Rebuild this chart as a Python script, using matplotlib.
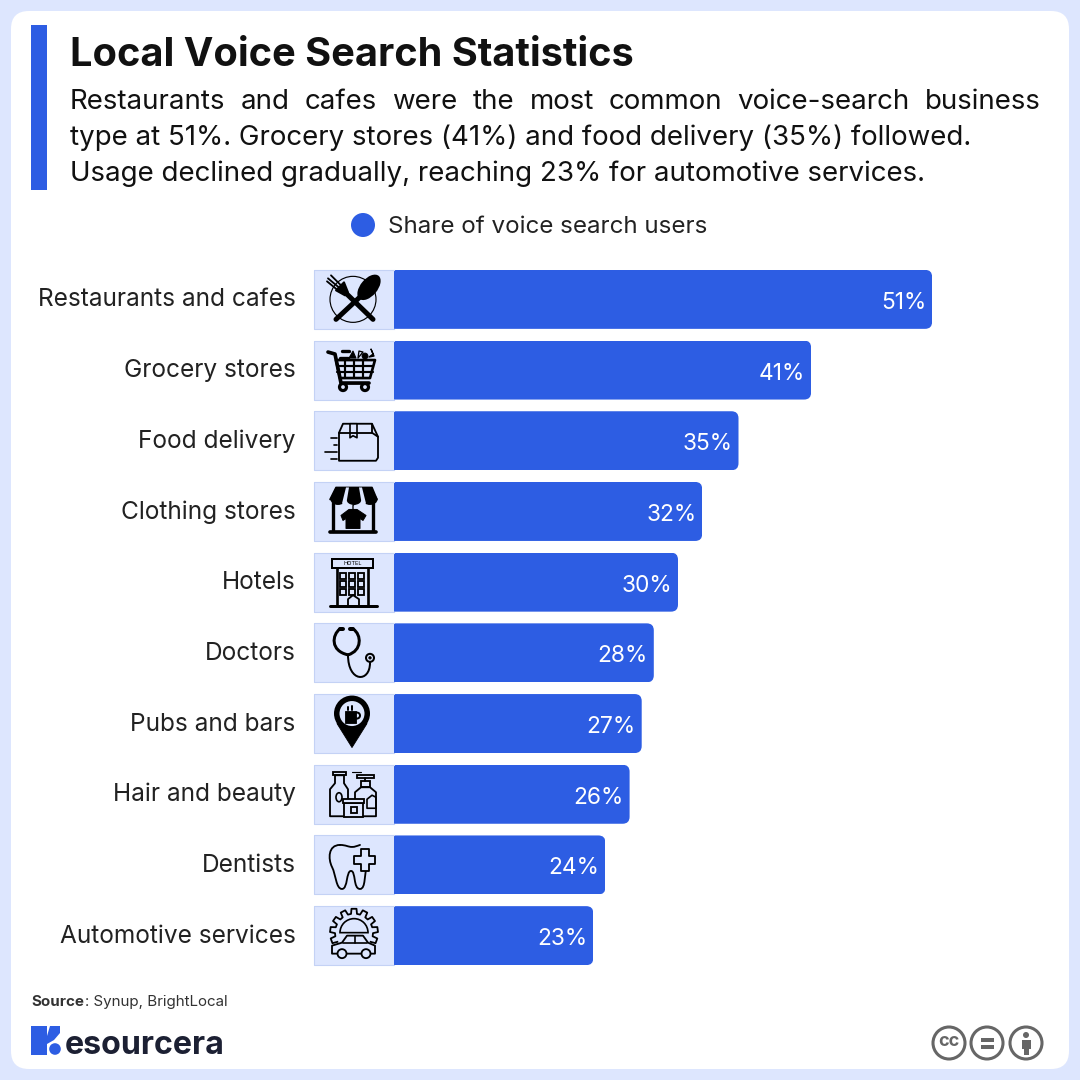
import numpy as np
import matplotlib
matplotlib.use("Agg")
import matplotlib.pyplot as plt
from matplotlib.patches import Rectangle, Circle, Ellipse, Polygon, FancyBboxPatch, PathPatch, Wedge
from matplotlib.path import Path
from matplotlib.transforms import Affine2D

plt.rcParams["font.family"] = ["Inter", "DejaVu Sans"]

categories = ["Restaurants and cafes", "Grocery stores", "Food delivery", "Clothing stores", "Hotels",
              "Doctors", "Pubs and bars", "Hair and beauty", "Dentists", "Automotive services"]
values = [51, 41, 35, 32, 30, 28, 27, 26, 24, 23]

title = "Local Voice Search Statistics"
subtitle_lines = ["Restaurants and cafes were the most common voice-search business",
                  "type at 51%. Grocery stores (41%) and food delivery (35%) followed.",
                  "Usage declined gradually, reaching 23% for automotive services."]
legend_label = "Share of voice search users"

BLUE = "#2d5de3"
PALE = "#dde6fe"
INK = "#111111"
LW = 1.2

fig = plt.figure(figsize=(10.8, 10.8), dpi=100, facecolor=PALE)

# background layer works in reference pixels, y going down
bg = fig.add_axes([0, 0, 1, 1])
bg.set_xlim(0, 1080)
bg.set_ylim(1080, 0)
bg.axis("off")
bg.add_patch(FancyBboxPatch((11, 11), 1058, 1058, boxstyle="round,pad=0,rounding_size=18", fc="white", ec="none"))
bg.add_patch(Rectangle((31, 25), 16, 165, fc=BLUE, ec="none"))

bg.text(70, 55.5, title, fontsize=28.6, fontweight="bold", color=INK, va="center", ha="left")

renderer = fig.canvas.get_renderer()


def justified(words, x0, x1, y, size):
    # first line of the intro is stretched to the full width
    items = [bg.text(0, y, w, fontsize=size, color=INK, va="center", ha="left") for w in words]
    widths = [t.get_window_extent(renderer).width for t in items]
    gap = (x1 - x0 - sum(widths)) / (len(words) - 1)
    x = x0
    for t, w in zip(items, widths):
        t.set_x(x)
        x += w + gap


justified(subtitle_lines[0].split(" "), 70, 1041, 102, 19.95)
bg.text(70, 138, subtitle_lines[1], fontsize=19.95, color=INK, va="center", ha="left")
bg.text(70, 174, subtitle_lines[2], fontsize=19.95, color=INK, va="center", ha="left")

bg.add_patch(Circle((363, 225), 12, fc=BLUE, ec="none"))
bg.text(388, 227, legend_label, fontsize=17.4, color="#222222", va="center", ha="left")

# chart axes, 0 sits on the left of the icon cells
ax = fig.add_axes([315 / 1080, 1 - 971 / 1080, 726 / 1080, 707 / 1080])
ax.patch.set_alpha(0)
ax.set_xlim(0, 60)
ax.set_ylim(9.5, -0.5)
ax.axis("off")
bars = ax.barh(range(len(values)), values, height=0.835, color=BLUE)

centers = []
for i, (bar, v, name) in enumerate(zip(bars, values, categories)):
    x1, yc = bg.transData.inverted().transform(ax.transData.transform((v, i)))
    centers.append(yc)
    # round the right end of the bar only
    clip = FancyBboxPatch((280, yc - 29.5), x1 - 280, 59, boxstyle="round,pad=0,rounding_size=7",
                          transform=bg.transData, fc="none", ec="none")
    bar.set_clip_path(clip)
    ax.annotate(f"{v}%", xy=(v, i), xytext=(-6, -3.5), textcoords="offset pixels", ha="right", va="center",
                color="white", fontsize=16.4)
    bg.text(295.5, yc + 0.5, name, ha="right", va="center", fontsize=17.6, color="#222222")

# icon layer on top of the bars
top = fig.add_axes([0, 0, 1, 1])
top.set_xlim(0, 1080)
top.set_ylim(1080, 0)
top.axis("off")
top.patch.set_alpha(0)


def line(tr, pts, lw=1.5, c="black"):
    top.plot([p[0] for p in pts], [p[1] for p in pts], color=c, lw=lw * LW, transform=tr,
             solid_capstyle="round", solid_joinstyle="round")


def poly(tr, pts, fc="none", ec="black", lw=1.2):
    top.add_patch(Polygon(pts, closed=True, fc=fc, ec=ec, lw=lw * LW, transform=tr, joinstyle="round"))


def rect(tr, x, y, w, h, fc="none", ec="black", lw=1.2):
    top.add_patch(Rectangle((x, y), w, h, fc=fc, ec=ec, lw=lw * LW, transform=tr))


def circ(tr, x, y, r, fc="none", ec="black", lw=1.2):
    top.add_patch(Circle((x, y), r, fc=fc, ec=ec, lw=lw * LW, transform=tr))


def curve(tr, start, *segs, lw=1.3, fc="none"):
    # segs are (c1, c2, end) cubic pieces
    verts = [start]
    codes = [Path.MOVETO]
    for s in segs:
        verts += list(s)
        codes += [Path.CURVE4] * 3
    top.add_patch(PathPatch(Path(verts, codes), fc=fc, ec="black", lw=lw * LW, transform=tr, capstyle="round"))


def icon_food(tr):
    circ(tr, -1, 0, 23, lw=0.7)
    line(tr, [(19, 20), (-12, -10)], lw=3)
    poly(tr, [(-18, -9), (-10, -17), (-6, -7), (-9, -4)], fc="black", ec="black")
    line(tr, [(-14, -11), (-26, -21)], lw=1.1)
    line(tr, [(-12, -13), (-23, -24)], lw=1.1)
    line(tr, [(-16, -9), (-27, -18)], lw=1.1)
    line(tr, [(-18, 20), (12, -8)], lw=3)
    top.add_patch(Ellipse((15, -12), 17, 30, angle=40, fc="black", ec="none", transform=tr))


def icon_cart(tr):
    line(tr, [(-26, -18), (-19, -16), (-13, 13), (15, 13)], lw=2.2)
    poly(tr, [(-18, -10), (21, -10), (16, 8), (-14, 8)], lw=1.6)
    for x in [-9, 0, 9]:
        line(tr, [(x, -10), (x, 8)], lw=1.3)
    for y in [-4, 2]:
        line(tr, [(-17, y), (19, y)], lw=1.3)
    circ(tr, -11, 17, 3.5, fc=PALE, lw=1.9)
    circ(tr, 11, 17, 3.5, fc=PALE, lw=1.9)
    line(tr, [(-14, -12), (-6, -12)], lw=2)
    line(tr, [(-12, -19), (-5, -19)], lw=2)
    poly(tr, [(-5, -12), (-1, -19), (2, -12)], fc="black", lw=0.6)
    poly(tr, [(4, -12), (5, -19), (9, -18)], lw=0.8)
    circ(tr, 11, -14, 3, fc="black", lw=0.5)
    poly(tr, [(17, -21), (19, -16), (15, -13), (20, -14)], fc="black", lw=0.8)


def icon_box(tr):
    poly(tr, [(-15, 20), (-15, -8), (-11, -17), (18, -17), (24, -4), (24, 17), (22, 20)], lw=1.1)
    line(tr, [(-15, -8), (18, -8), (18, -17)], lw=1.1)
    line(tr, [(18, -8), (24, -4)], lw=1.1)
    poly(tr, [(-4, -17), (3, -17), (3, -3), (-1, -5), (-4, -3)], fc=PALE, lw=1)
    line(tr, [(-23, -3), (-17, -3)], lw=1)
    line(tr, [(-20, 4), (-17, 4)], lw=1)
    line(tr, [(-29, 11), (-17, 11)], lw=1)
    line(tr, [(-23, 18), (-17, 18)], lw=1)


def icon_shop(tr):
    poly(tr, [(-18, -24), (18, -24), (23, -12), (-24, -12)], fc="black", lw=1)
    for x in [-16, 0, 16]:
        top.add_patch(Ellipse((x, -12), 15, 11, fc="black", ec="none", transform=tr))
    poly(tr, [(-8, -24), (-5, -24), (-8, -6), (-12, -8)], fc=PALE, ec="none")
    poly(tr, [(5, -24), (8, -24), (12, -8), (8, -6)], fc=PALE, ec="none")
    line(tr, [(-21, -8), (-21, 20)], lw=2)
    line(tr, [(19, -8), (19, 20)], lw=2)
    line(tr, [(-24, 21), (22, 21)], lw=2.2)
    line(tr, [(-1, -2), (-1, -6), (1, -8)], lw=0.8)
    poly(tr, [(-5, -2), (3, -2), (12, 4), (9, 9), (6, 7), (6, 17), (-8, 17), (-8, 7), (-11, 9), (-13, 4)],
         fc="black", lw=0.6)


def icon_hotel(tr):
    rect(tr, -22, -23, 41, 9, lw=1.2)
    top.text(-1.5, -18.5, "HOTEL", fontsize=4, ha="center", va="center", transform=tr)
    line(tr, [(-17, -14), (-17, 24)], lw=1.6)
    line(tr, [(14, -14), (14, 24)], lw=1.6)
    line(tr, [(-24, 24), (23, 24)], lw=1.8)
    for y in [-9, -1, 7]:
        for x in [-14, -5, 4]:
            rect(tr, x, y, 6, 5.5, lw=1.1)
    poly(tr, [(-6, 24), (-6, 17), (-1, 13), (5, 17), (5, 24)], lw=1.1)


def icon_stethoscope(tr):
    curve(tr, (-14, -24), ((-22, -18), (-24, -2), (-6, 2)), lw=1.8)
    curve(tr, (-1, -24), ((8, -18), (8, -2), (-6, 2)), lw=1.8)
    line(tr, [(-14, -24), (-11, -24)], lw=2.4)
    line(tr, [(-1, -24), (-4, -24)], lw=2.4)
    curve(tr, (-6, 2), ((-6, 30), (16, 30), (16, 10)), lw=1.2)
    circ(tr, 16, 5, 4, lw=1.2)
    circ(tr, 16, 5, 1.2, fc="black", lw=0.5)


def icon_pin(tr):
    circ(tr, -2, -10, 18, fc="black", ec="none", lw=0)
    poly(tr, [(-17, 0), (13, 0), (-2, 24)], fc="black", ec="black", lw=0.5)
    circ(tr, -2, -10, 12.5, fc=PALE, ec="none", lw=0)
    rect(tr, -9, -13, 11, 12, fc="black", lw=0.5)
    circ(tr, 3, -8, 3, lw=1.2)
    line(tr, [(-6, -17), (-6, -14)], lw=1.2)
    line(tr, [(-2, -18), (-2, -14)], lw=1.2)


def icon_beauty(tr):
    poly(tr, [(-24, 22), (-24, -5), (-19, -11), (-19, -19), (-10, -19), (-10, -11), (-6, -5), (-6, 22)], lw=1.1)
    rect(tr, -21, -22, 13, 3, lw=1.1)
    top.add_patch(Ellipse((-15, 3), 6, 9, fc="none", ec="black", lw=1.2, transform=tr))
    poly(tr, [(1, 22), (1, -2), (7, -7), (16, -7), (22, -2), (22, 22)], lw=1.1)
    rect(tr, 7, -13, 9, 6, lw=1.1)
    rect(tr, 3, -19, 17, 3, lw=1.1)
    line(tr, [(11, -16), (11, -13)], lw=1.1)
    poly(tr, [(13, 5), (18, 1), (22, 3), (22, 14), (13, 14)], lw=1)
    rect(tr, -10, 9, 19, 14, fc=PALE, lw=1.1)
    rect(tr, -11, 5, 21, 4, fc=PALE, lw=1.1)
    rect(tr, -3, 13, 6, 6, lw=1.1)
    line(tr, [(-2, -22), (7, -22)], lw=0.7)


def icon_tooth(tr):
    curve(tr, (-14, -20), ((-26, -20), (-26, -6), (-22, 2)),
          ((-18, 10), (-18, 24), (-12, 24)), ((-6, 24), (-8, 6), (-3, 6)),
          ((2, 6), (-1, 24), (6, 24)), ((12, 24), (10, 8), (13, 2)), lw=1.1)
    curve(tr, (-14, -20), ((-8, -20), (-6, -18), (-2, -18)), ((1, -18), (3, -19), (6, -20)), lw=1.1)
    poly(tr, [(0, -9), (7, -9), (7, -16), (15, -16), (15, -9), (21, -9), (21, -1), (15, -1), (15, 6),
              (7, 6), (7, -1), (0, -1)], fc=PALE, lw=1.1)


def icon_car(tr):
    # gear outline with square teeth, only the upper part shows behind the car
    pts = []
    for a in np.arange(-200, 21, 27.5):
        for da, r in [(-9, 19), (-6, 24), (6, 24), (9, 19)]:
            t = np.radians(a + da)
            pts.append((np.cos(t) * r, -3 + np.sin(t) * r))
    top.plot([p[0] for p in pts], [p[1] for p in pts], color="black", lw=1.3, transform=tr,
             solid_joinstyle="round")
    top.add_patch(Wedge((0, -3), 14, 180, 360, fc="none", ec="black", lw=1.2, transform=tr))
    poly(tr, [(-22, 18), (-22, 10), (-12, 7), (-7, 0), (9, 0), (14, 7), (21, 10), (21, 18)], fc=PALE, lw=1.1)
    line(tr, [(-11, 7), (13, 7)], lw=1)
    line(tr, [(1, 0), (1, 7)], lw=1)
    circ(tr, -12, 18, 4.5, fc=PALE, lw=1.1)
    circ(tr, 12, 18, 4.5, fc=PALE, lw=1.1)


icons = [icon_food, icon_cart, icon_box, icon_shop, icon_hotel,
         icon_stethoscope, icon_pin, icon_beauty, icon_tooth, icon_car]

for yc, draw in zip(centers, icons):
    top.add_patch(Rectangle((314, yc - 29.5), 80, 59, fc=PALE, ec="none"))
    top.plot([394, 314, 314, 394], [yc - 29.5, yc - 29.5, yc + 29.5, yc + 29.5], color="#c4d2f5", lw=0.8)
    draw(Affine2D().translate(354, yc) + top.transData)

# footer
top.text(31, 1002, "Source", fontsize=10.9, fontweight="bold", color="#333333", va="center", ha="left")
top.text(85, 1002, ": Synup, BrightLocal", fontsize=10.9, color="#333333", va="center", ha="left")

top.add_patch(Polygon([(31, 1026), (47, 1026), (47, 1036), (50, 1026), (60, 1026), (60, 1033), (54, 1040),
                       (47, 1044), (47, 1055), (31, 1055)], closed=True, fc=BLUE, ec="none"))
top.add_patch(Circle((55, 1049), 5.8, fc=BLUE, ec="none"))
top.text(65, 1046, "esourcera", fontsize=23.2, fontweight="bold", color="#1c2033", va="center", ha="left")

GREY = "#666666"
for x in [949, 987, 1026]:
    top.add_patch(Circle((x, 1043), 16, fc="white", ec=GREY, lw=2.2))
top.text(949, 1042, "cc", fontsize=13, fontweight="bold", color=GREY, va="center", ha="center")
top.add_patch(Rectangle((981, 1038), 13, 4, fc=GREY, ec="none"))
top.add_patch(Rectangle((981, 1045), 13, 4, fc=GREY, ec="none"))
top.add_patch(Circle((1026, 1035), 3, fc=GREY, ec="none"))
top.add_patch(Rectangle((1022, 1040), 9, 9, fc=GREY, ec="none"))
top.add_patch(Rectangle((1024, 1049), 5, 6, fc=GREY, ec="none"))

fig.savefig("out.png", dpi=100, facecolor=PALE)
